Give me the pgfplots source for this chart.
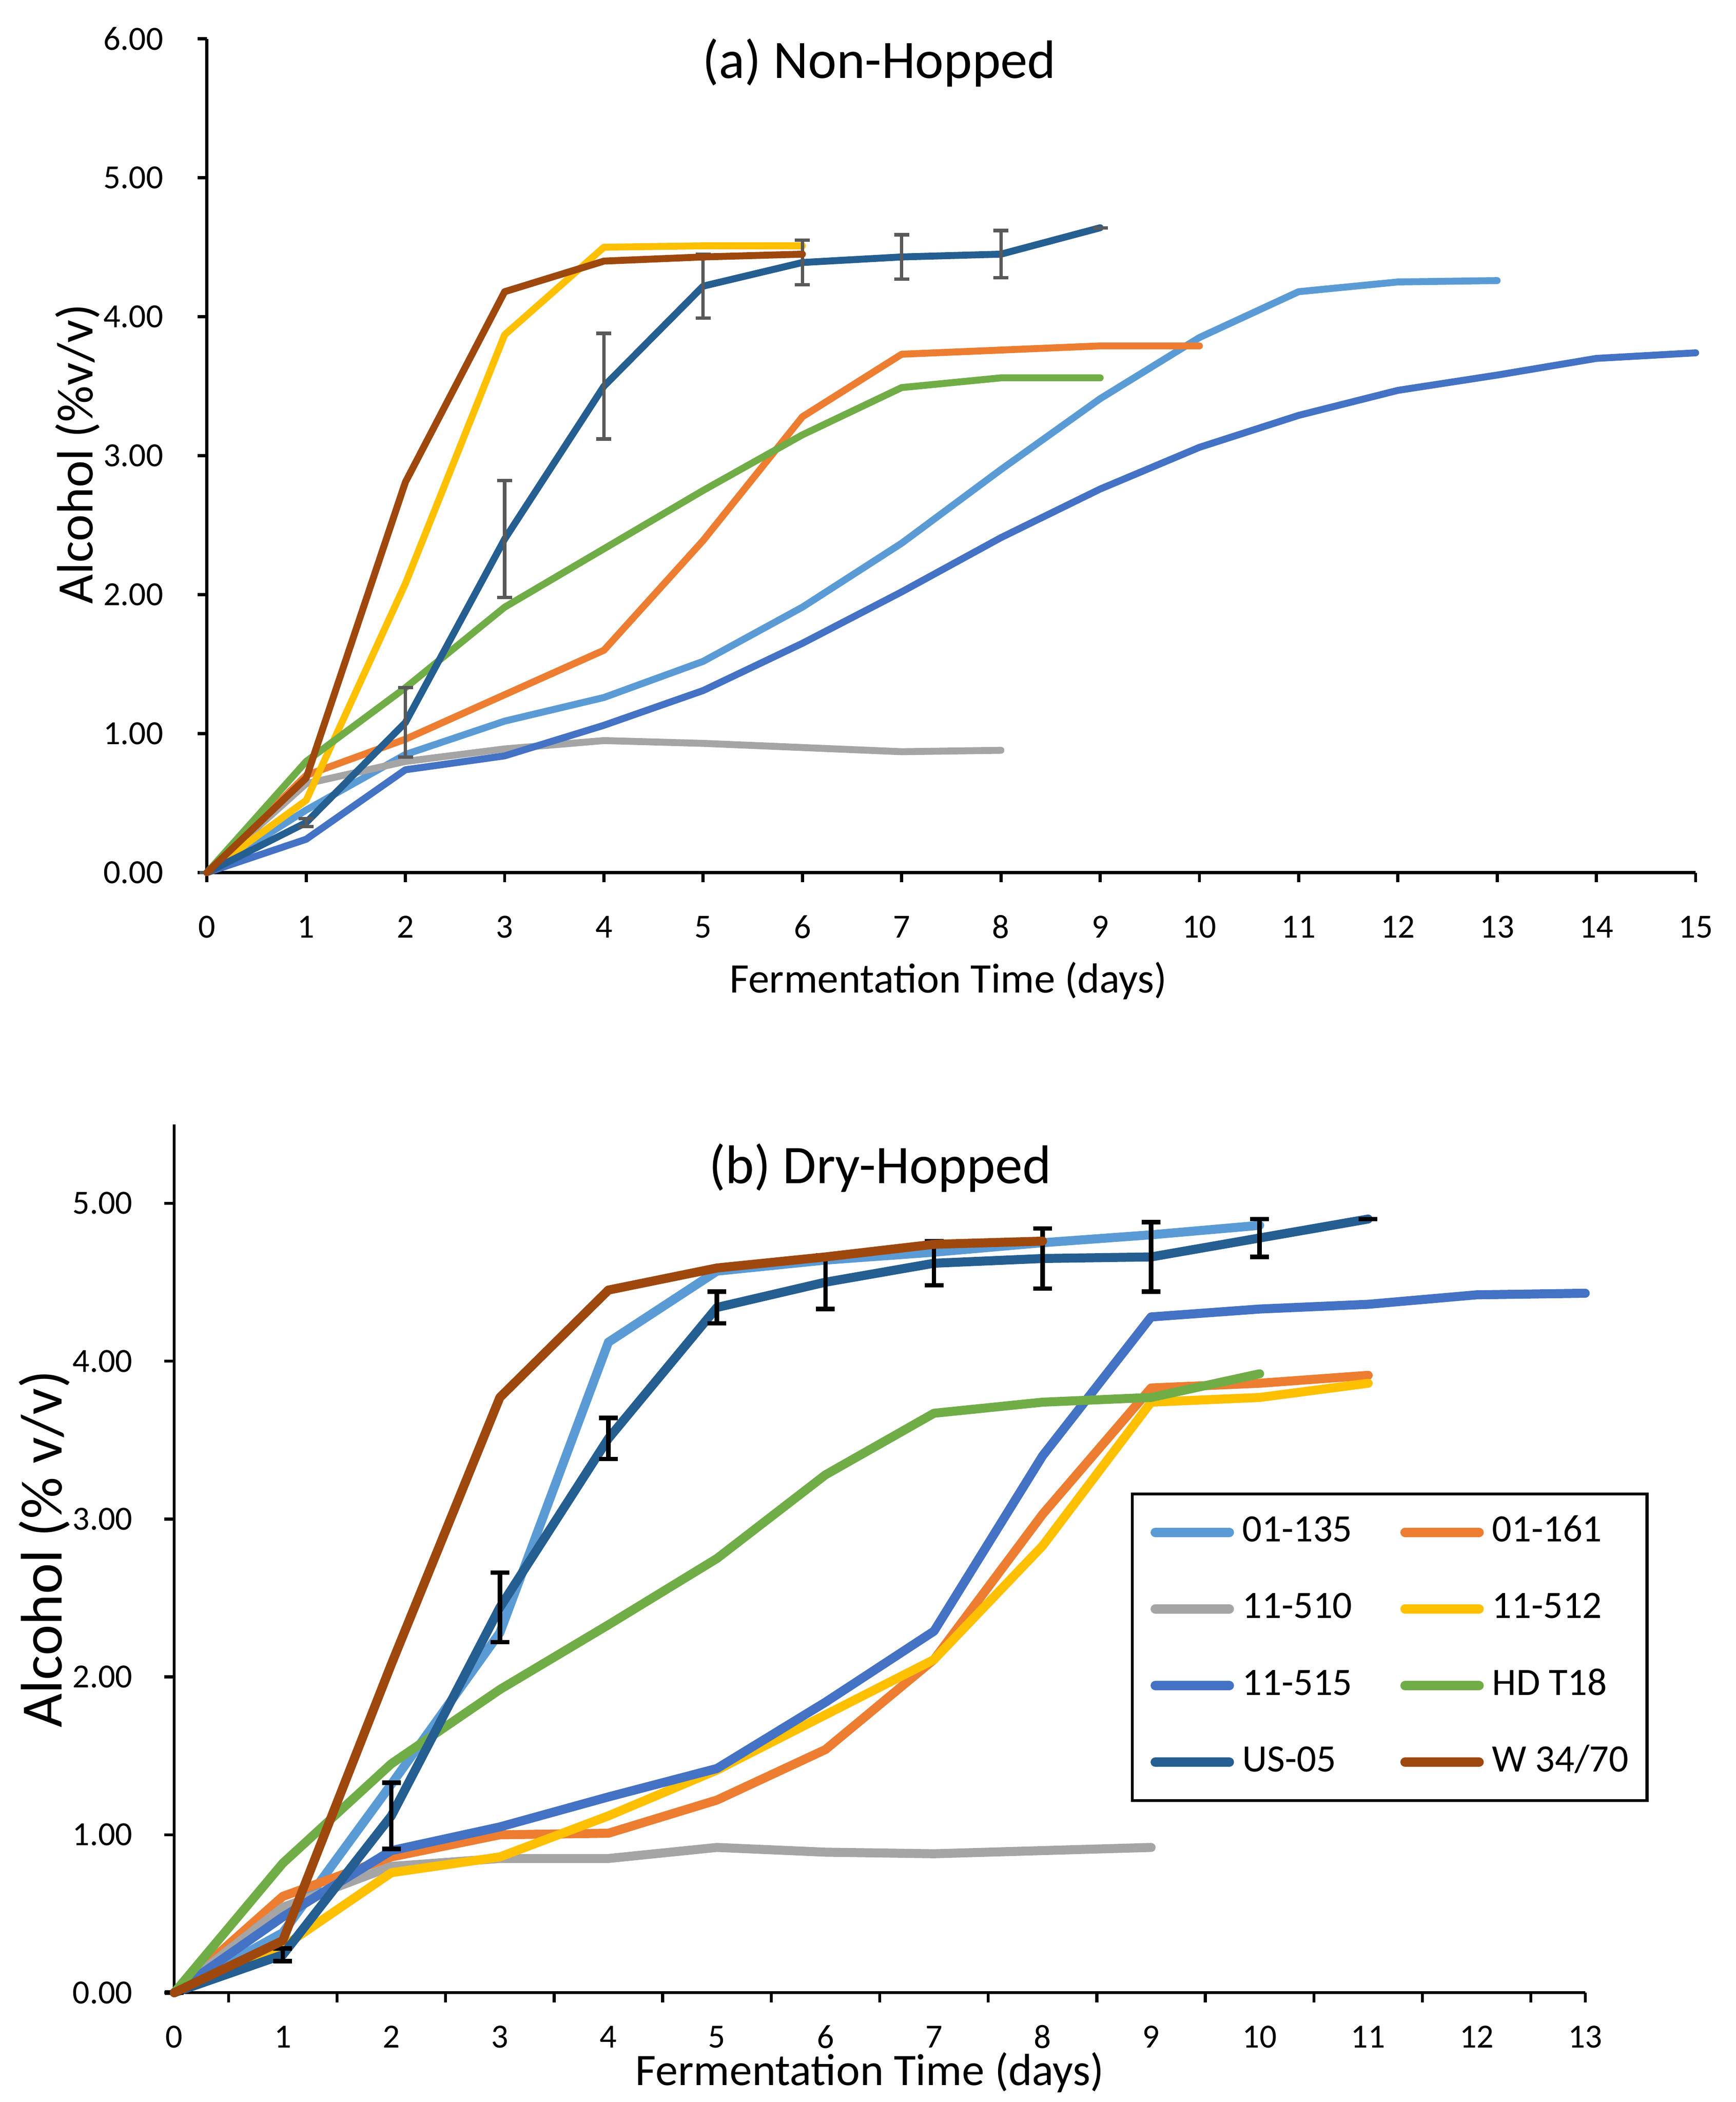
\documentclass[border=0pt]{standalone}
\usepackage{fontspec}
\setmainfont{Carlito}
\usepackage{pgfplots}
\pgfplotsset{compat=1.18}
\definecolor{cA}{HTML}{5B9BD5}
\definecolor{cB}{HTML}{ED7D31}
\definecolor{cC}{HTML}{A5A5A5}
\definecolor{cD}{HTML}{FFC000}
\definecolor{cE}{HTML}{4472C4}
\definecolor{cF}{HTML}{70AD47}
\definecolor{cG}{HTML}{255E91}
\definecolor{cH}{HTML}{9E480E}
\definecolor{errgray}{HTML}{595959}
\begin{document}
\begin{tikzpicture}[x=1pt,y=1pt]
\path[use as bounding box] (0,0) rectangle (462.125,559.625);
% ---------------- (a) ----------------
\begin{axis}[
  at={(55.1pt,327.3pt)}, anchor=south west,
  width=396.4pt, height=222pt, scale only axis,
  xmin=0, xmax=15, ymin=0, ymax=6,
  axis x line*=bottom, axis y line*=left,
  axis line style={-, line width=0.85pt, black},
  tick align=outside, major tick length=2.5pt,
  tick style={line width=0.85pt, black},
  xtick={0,...,15}, ytick={0,...,6},
  /pgf/number format/assume math mode=true,
  y tick label style={/pgf/number format/.cd, fixed, fixed zerofill, precision=2, /tikz/.cd},
  xticklabel style={anchor=center, inner sep=0pt, yshift=-12pt, font=\fontsize{9}{10}\selectfont},
  yticklabel style={anchor=east, inner sep=0pt, xshift=-8.9pt, font=\fontsize{9}{10}\selectfont},
  xlabel={Fermentation Time (days)},
  xlabel style={at={(axis description cs:0.498,-0.130)}, anchor=center, font=\fontsize{11.2}{13}\selectfont},
  ylabel={Alcohol (\%v/v)},
  ylabel style={at={(axis description cs:-0.087,0.502)}, anchor=center, font=\fontsize{13.6}{15}\selectfont},
  every axis plot/.append style={line width=1.85pt, line join=round, line cap=round},
  clip=false,
]
\addplot[cA] coordinates {(0,0) (1,0.45) (2,0.85) (3,1.09) (4,1.26) (5,1.52) (6,1.91) (7,2.37) (8,2.90) (9,3.41) (10,3.85) (11,4.18) (12,4.25) (13,4.26)};
\addplot[cB] coordinates {(0,0) (1,0.70) (2,0.96) (3,1.28) (4,1.60) (5,2.39) (6,3.28) (7,3.73) (8,3.76) (9,3.79) (10,3.79)};
\addplot[cC] coordinates {(0,0) (1,0.64) (2,0.80) (3,0.89) (4,0.95) (5,0.93) (6,0.90) (7,0.87) (8,0.88)};
\addplot[cD] coordinates {(0,0) (1,0.52) (2,2.08) (3,3.87) (4,4.50) (5,4.51) (6,4.51)};
\addplot[cE] coordinates {(0,0) (1,0.24) (2,0.74) (3,0.84) (4,1.06) (5,1.31) (6,1.65) (7,2.02) (8,2.41) (9,2.76) (10,3.06) (11,3.29) (12,3.47) (13,3.58) (14,3.70) (15,3.74)};
\addplot[cF] coordinates {(0,0) (1,0.80) (2,1.33) (3,1.91) (4,2.33) (5,2.75) (6,3.15) (7,3.49) (8,3.56) (9,3.56)};
\addplot[cG, error bars/.cd, y dir=both, y explicit,
  error bar style={line width=0.9pt, errgray, line cap=butt},
  error mark options={rotate=90, mark size=2pt, line width=0.9pt, errgray}]
  coordinates {(0,0) +- (0,0) (1,0.36) +- (0,0.03) (2,1.08) +- (0,0.25) (3,2.40) +- (0,0.42) (4,3.50) +- (0,0.38) (5,4.22) +- (0,0.23) (6,4.39) +- (0,0.16) (7,4.43) +- (0,0.16) (8,4.45) +- (0,0.17) (9,4.64) +- (0,0)};
\addplot[cH] coordinates {(0,0) (1,0.68) (2,2.81) (3,4.18) (4,4.40) (5,4.43) (6,4.45)};
\node[font=\fontsize{14.4}{16}\selectfont] at (rel axis cs:0.4516,0.971) {(a) Non-Hopped};
\end{axis}
% ---------------- (b) ----------------
\begin{axis}[
  at={(46.4pt,29.1pt)}, anchor=south west,
  width=375.7pt, height=231.2pt, scale only axis,
  xmin=0, xmax=13, ymin=0, ymax=5.5,
  axis x line*=bottom, axis y line*=left,
  axis line style={-, line width=0.8pt, black},
  tick align=outside, major tick length=2.6pt,
  tick style={line width=0.8pt, black},
  xtick={0.5,1.5,2.5,3.5,4.5,5.5,6.5,7.5,8.5,9.5,10.5,11.5,12.5,13},
  xticklabels={},
  ytick={0,...,5},
  extra x ticks={0,1,2,3,4,5,6,7,8,9,10,11,12,13},
  extra x tick labels={0,1,2,3,4,5,6,7,8,9,10,11,12,13},
  extra x tick style={major tick length=0pt},
  /pgf/number format/assume math mode=true,
  y tick label style={/pgf/number format/.cd, fixed, fixed zerofill, precision=2, /tikz/.cd},
  xticklabel style={anchor=center, inner sep=0pt, yshift=-11.8pt, font=\fontsize{9}{10}\selectfont},
  yticklabel style={anchor=east, inner sep=0pt, xshift=-8.3pt, font=\fontsize{9}{10}\selectfont},
  xlabel={Fermentation Time (days)},
  xlabel style={at={(axis description cs:0.493,-0.092)}, anchor=center, font=\fontsize{12}{14}\selectfont},
  ylabel={Alcohol (\% v/v)},
  ylabel style={at={(axis description cs:-0.092,0.511)}, anchor=center, font=\fontsize{15.6}{17}\selectfont},
  every axis plot/.append style={line width=2.4pt, line join=round, line cap=round},
  clip=false,
  legend columns=2,
  legend cell align=left,
  legend image code/.code={\draw[#1, line width=2.5pt, line cap=round] (0pt,0pt) -- (19.7pt,0pt);},
  legend style={at={(axis description cs:0.678,0.576)}, anchor=north west,
    draw=black, line width=0.8pt, fill=white,
    font=\fontsize{10.3}{12}\selectfont,
    inner xsep=4.85pt, inner ysep=5.2pt,
    nodes={inner sep=0pt, text height=7.5pt, text depth=2.5pt},
    row sep=10.4pt,
    /tikz/every odd column/.append style={column sep=2.25pt},
    /tikz/every even column/.append style={column sep=12.8pt}},
]
\addplot[cA] coordinates {(0,0) (1,0.38) (2,1.32) (3,2.28) (4,4.12) (5,4.57) (6,4.64) (7,4.69) (8,4.75) (9,4.80) (10,4.86)};
\addlegendentry{01-135}
\addplot[cB] coordinates {(0,0) (1,0.61) (2,0.86) (3,1.00) (4,1.01) (5,1.22) (6,1.54) (7,2.11) (8,3.03) (9,3.83) (10,3.86) (11,3.91)};
\addlegendentry{01-161}
\addplot[cC] coordinates {(0,0) (1,0.54) (2,0.80) (3,0.85) (4,0.85) (5,0.92) (6,0.89) (7,0.88) (8,0.90) (9,0.92)};
\addlegendentry{11-510}
\addplot[cD] coordinates {(0,0) (1,0.29) (2,0.76) (3,0.86) (4,1.12) (5,1.41) (6,1.76) (7,2.11) (8,2.83) (9,3.74) (10,3.77) (11,3.86)};
\addlegendentry{11-512}
\addplot[cE] coordinates {(0,0) (1,0.48) (2,0.90) (3,1.05) (4,1.24) (5,1.42) (6,1.84) (7,2.29) (8,3.40) (9,4.28) (10,4.33) (11,4.36) (12,4.42) (13,4.43)};
\addlegendentry{11-515}
\addplot[cF] coordinates {(0,0) (1,0.82) (2,1.45) (3,1.92) (4,2.33) (5,2.75) (6,3.28) (7,3.67) (8,3.74) (9,3.77) (10,3.92)};
\addlegendentry{HD T18}
\addplot[cG, error bars/.cd, y dir=both, y explicit,
  error bar style={line width=1.2pt, black, line cap=butt},
  error mark options={rotate=90, mark size=2.5pt, line width=1.2pt, black}]
  coordinates {(0,0) +- (0,0) (1,0.24) +- (0,0.04) (2,1.12) +- (0,0.21) (3,2.44) +- (0,0.22) (4,3.51) +- (0,0.13) (5,4.34) +- (0,0.10) (6,4.50) +- (0,0.17) (7,4.62) +- (0,0.14) (8,4.65) +- (0,0.19) (9,4.66) +- (0,0.22) (10,4.78) +- (0,0.12) (11,4.90) +- (0,0)};
\addlegendentry{US-05}
\addplot[cH] coordinates {(0,0) (1,0.33) (2,2.08) (3,3.77) (4,4.45) (5,4.59) (6,4.66) (7,4.74) (8,4.76)};
\addlegendentry{W 34/70}
\node[font=\fontsize{14.5}{16}\selectfont] at (rel axis cs:0.5003,0.950) {(b) Dry-Hopped};
\end{axis}
\end{tikzpicture}
\end{document}
